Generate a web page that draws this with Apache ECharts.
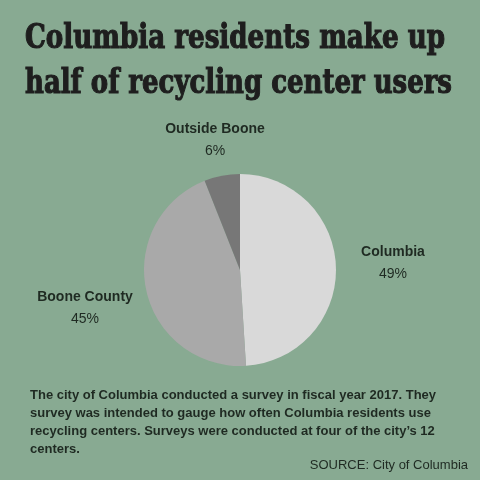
<!DOCTYPE html>
<html>
<head>
<meta charset="utf-8">
<script src="https://cdn.jsdelivr.net/npm/echarts@6/dist/echarts.min.js"></script>
<style>
html,body{margin:0;padding:0;background:#88aa92;}
#chart{width:480px;height:480px;}
</style>
</head>
<body>
<div id="chart"></div>
<script>
const categories = ['Columbia', 'Boone County', 'Outside Boone'];
const shares = [49, 45, 6];
const sliceColors = ['#d9d9d9', '#a9a9a9', '#777777'];
const titleLines = ['Columbia residents make up', 'half of recycling center users'];
const noteLines = [
  'The city of Columbia conducted a survey in fiscal year 2017. They',
  'survey was intended to gauge how often Columbia residents use',
  "recycling centers. Surveys were conducted at four of the city\u2019s 12",
  'centers.'
];
const sourceText = 'SOURCE: City of Columbia';

// layout only
const labelPos = [[393, 263], [85, 308], [215, 140]];
const titleWidths = [420, 427];
const titleTops = [23, 68];
const titleFont = 'bold 33px "DejaVu Serif"';

const measureCtx = document.createElement('canvas').getContext('2d');
measureCtx.font = titleFont;

const chart = echarts.init(document.getElementById('chart'));
const graphics = [];
titleLines.forEach((t, i) => {
  const w = measureCtx.measureText(t).width;
  graphics.push({
    type: 'text', x: 25, y: titleTops[i], scaleX: titleWidths[i] / w,
    style: { text: t, font: titleFont, fill: '#1e1e1e', stroke: '#1e1e1e', lineWidth: 1.2 }
  });
});
noteLines.forEach((t, i) => {
  graphics.push({
    type: 'text', left: 30, top: 389 + i * 18,
    style: { text: t, font: 'bold 13px "Liberation Sans"', fill: '#1f2a22' }
  });
});
graphics.push({
  type: 'text', right: 12, top: 459,
  style: { text: sourceText, font: '13px "Liberation Sans"', fill: '#1f2a22' }
});

const richBase = { fontFamily: 'Liberation Sans', fontSize: 14, color: '#1f2a22', lineHeight: 22, align: 'center' };

chart.setOption({
  backgroundColor: '#88aa92',
  animation: false,
  graphic: graphics,
  series: [{
    type: 'pie',
    center: [240, 270],
    radius: 96,
    startAngle: 90,
    clockwise: true,
    data: categories.map((c, i) => ({ name: c, value: shares[i], itemStyle: { color: sliceColors[i] } })),
    label: {
      show: true,
      overflow: 'none',
      formatter: p => '{n|' + p.name + '}\n{v|' + p.value + '%}',
      rich: {
        n: Object.assign({}, richBase, { fontWeight: 'bold' }),
        v: Object.assign({}, richBase, { fontWeight: 'normal' })
      }
    },
    labelLine: { show: false },
    labelLayout: p => ({ x: labelPos[p.dataIndex][0], y: labelPos[p.dataIndex][1], align: 'center', verticalAlign: 'middle' }),
    emphasis: { disabled: true }
  }]
});
</script>
</body>
</html>
